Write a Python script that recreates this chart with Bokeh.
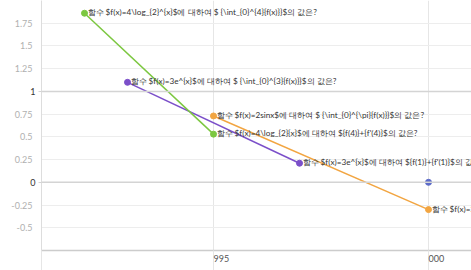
from bokeh.plotting import figure
from bokeh.models import FixedTicker, Span, LinearAxis, ColumnDataSource
from bokeh.core.properties import value
from bokeh.embed import file_html
from bokeh.resources import INLINE

# ---- data ----
green_x = [992, 995]
green_y = [1.86, 0.53]
green_labels = [
    "함수 $f(x)=4\\log_{2}^{x}$에 대하여 $ {\\int_{0}^{4}{f(x)}}$의 값은?",
    "함수 $f(x)=4\\log_{2}{x}$에 대하여 ${f(4)}+{f'(4)}$의 값은?",
]
purple_x = [993, 997]
purple_y = [1.10, 0.21]
purple_labels = [
    "함수 $f(x)=3e^{x}$에 대하여 $ {\\int_{0}^{3}{f(x)}}$의 값은?",
    "함수 $f(x)=3e^{x}$에 대하여 ${f(1)}+{f'(1)}$의 값은?",
]
orange_x = [995, 1000]
orange_y = [0.73, -0.30]
orange_labels = [
    "함수 $f(x)=2sinx$에 대하여 $ {\\int_{0}^{\\pi}{f(x)}}$의 값은?",
    "함수 $f(x)=2sinx$에 대하여 ${f(\\pi)}+{f'(\\pi)}$의 값은?",
]
blue_x = [1000]
blue_y = [0.0]

y_ticks = [-0.5, -0.25, 0, 0.25, 0.5, 0.75, 1, 1.25, 1.5, 1.75]
y_tick_labels = ["-0.5", "-0.25", "0", "0.25", "0.5", "0.75", "1", "1.25", "1.5", "1.75"]
y_dark_ticks = [0, 1]
x_ticks = [991, 995, 1000]
x_tick_labels = ["", "995", "000"]

X_START, X_END = 991, 1001
Y_START, Y_END = -0.75, 2.0

NUM_FONT = "Lato"
TXT_FONT = value("Lato")

p = figure(width=471, height=270, x_range=(X_START, X_END), y_range=(Y_START, Y_END),
           output_backend="svg", toolbar_location=None,
           min_border_left=41, min_border_bottom=20, min_border_top=0, min_border_right=0)
p.outline_line_color = None
p.background_fill_color = "white"
p.border_fill_color = "white"

# grids
p.ygrid.ticker = FixedTicker(ticks=y_ticks)
p.ygrid.grid_line_color = "#ededed"
p.xgrid.ticker = FixedTicker(ticks=x_ticks)
p.xgrid.grid_line_color = "#e6e6e6"

for t in y_dark_ticks:
    p.add_layout(Span(location=t, dimension="width", line_color="#d4d4d4", line_width=1.5))

dark = {t: l for t, l in zip(y_ticks, y_tick_labels) if t in y_dark_ticks}
light = {t: l for t, l in zip(y_ticks, y_tick_labels) if t not in y_dark_ticks}

# inner y axis: axis line, short tick stubs, dark labels for 0 and 1
ya = p.yaxis[0]
ya.ticker = FixedTicker(ticks=list(dark.keys()))
ya.major_label_overrides = dark
ya.axis_line_color = "#dddddd"
ya.major_tick_line_color = "#d4d4d4"
ya.major_tick_out = 3
ya.major_tick_in = 0
ya.minor_tick_line_color = None
ya.major_label_standoff = 3
ya.major_label_text_font = NUM_FONT
ya.major_label_text_font_size = "9px"
ya.major_label_text_color = "#333333"

# outer y axis: light labels, pulled back against the frame
ya2 = LinearAxis(ticker=FixedTicker(ticks=list(light.keys())),
                 major_label_overrides=light,
                 axis_line_color=None, major_tick_line_color=None, minor_tick_line_color=None,
                 major_tick_out=0, major_tick_in=0, major_label_standoff=-5,
                 major_label_text_font=NUM_FONT, major_label_text_font_size="9px",
                 major_label_text_color="#b0b0b0")
p.add_layout(ya2, "left")

# x axis
xa = p.xaxis[0]
xa.ticker = FixedTicker(ticks=x_ticks)
xa.major_label_overrides = dict(zip(x_ticks, x_tick_labels))
xa.axis_line_color = "#cccccc"
xa.axis_line_width = 1.5
xa.major_tick_line_color = "#e6e6e6"
xa.major_tick_out = 20
xa.major_tick_in = 0
xa.minor_tick_line_color = None
xa.major_label_standoff = -12
xa.major_label_orientation = -0.0001
xa.major_label_text_font = NUM_FONT
xa.major_label_text_font_size = "9px"
xa.major_label_text_color = "#555555"

series = [
    (orange_x, orange_y, orange_labels, "#f2a541"),
    (purple_x, purple_y, purple_labels, "#7b4fc9"),
    (green_x, green_y, green_labels, "#7cc740"),
]
for xs, ys, labs, col in series:
    src = ColumnDataSource(dict(x=xs, y=ys, t=labs))
    p.line("x", "y", source=src, line_color=col, line_width=1.5)
    p.scatter("x", "y", source=src, size=6, fill_color=col, line_color=col)

p.scatter(blue_x, blue_y, size=6, fill_color="#5c6bc8", line_color="#5c6bc8")

for xs, ys, labs, col in series:
    src = ColumnDataSource(dict(x=xs, y=ys, t=labs))
    p.text("x", "y", text="t", source=src, x_offset=3, y_offset=-1,
           text_baseline="middle", text_align="left", text_font=TXT_FONT,
           text_font_size="8.2px", text_color="#333333")

open("out.html", "w").write(file_html(p, INLINE))
